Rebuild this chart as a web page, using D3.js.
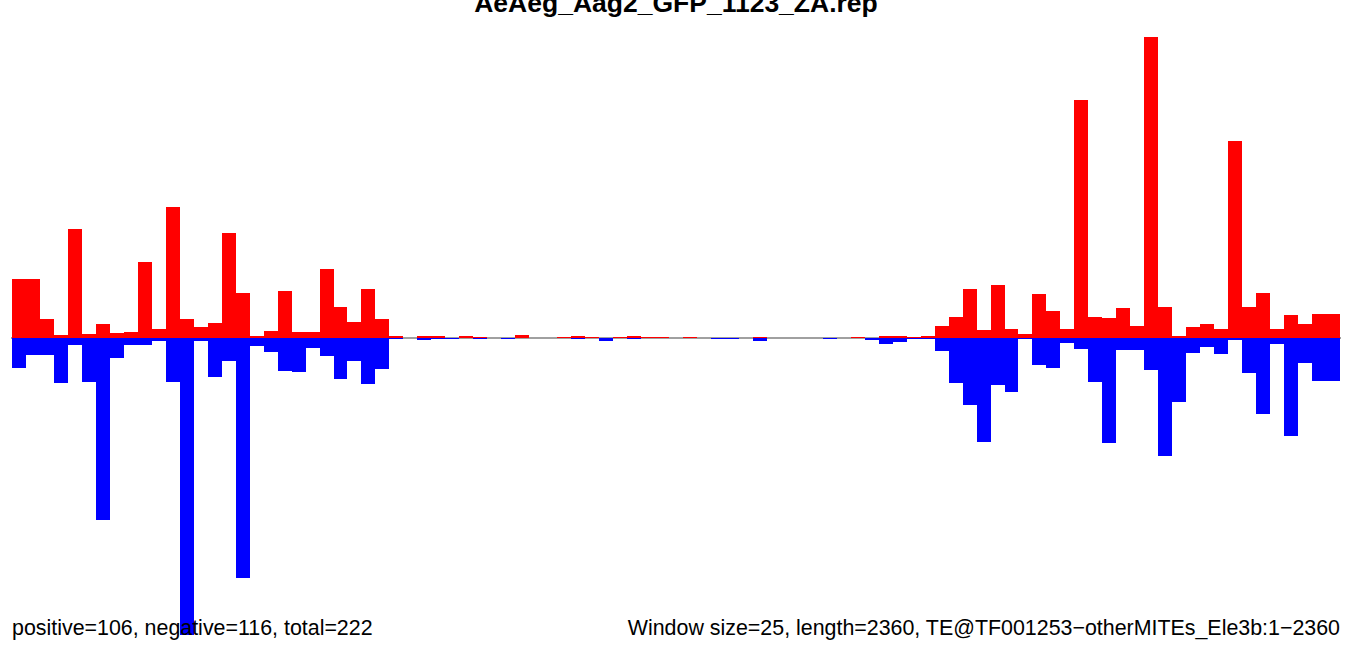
<!DOCTYPE html>
<html>
<head>
<meta charset="utf-8">
<script src="https://cdn.jsdelivr.net/npm/d3@7"></script>
<style>
  body { margin: 0; background: #fff; }
  svg { display: block; font-family: "Liberation Sans", Arial, Helvetica, sans-serif; }
</style>
</head>
<body>
<svg width="1357" height="646"></svg>
<script>
let width = 1357,
    height = 646,
    margin = ({ top: 37, right: 17, bottom: 8, left: 12 }); // plot box inside the page

// window starts along the TE (window size 25, length 2360)
const windowSize = 25, teLength = 2360;
const windows = d3.range(0, teLength, windowSize);

// read counts per window, sense strand (drawn up, red)
const positive = [
  59, 59, 19, 3, 109, 4, 14, 5, 6, 76,
  9, 131, 19, 11, 15, 105, 45, 2, 7, 47,
  6, 6, 69, 31, 16, 49, 19, 2, 0, 2,
  2, 0, 2, 1, 0, 0, 3, 0, 0, 1,
  2, 1, 0, 1, 2, 1, 1, 0, 1, 0,
  0, 0, 0, 1, 0, 0, 0, 0, 0, 0,
  1, 0, 2, 2, 1, 2.3, 12.3, 21, 49, 8,
  53, 9, 4, 44, 27, 9, 238, 21, 20, 30,
  12, 301, 31, 2.3, 11, 14, 9, 197, 31, 45,
  9, 23, 14, 24, 24
];

// read counts per window, antisense strand (drawn down, blue)
const negative = [
  29.7, 16.7, 16.7, 44.7, 6.7, 43.7, 181.7, 19.7, 7.3, 7.3,
  2.7, 43.7, 297, 2.7, 38.7, 22.7, 239.7, 7.7, 13.7, 32.7,
  33.7, 9.7, 17.7, 40.7, 22.7, 45.7, 30.7, 1, 0, 2,
  1, 1, 0, 1, 0, 1, 0, 0, 0, 0,
  1, 0, 3, 0, 1, 0, 0, 0, 0, 0,
  1, 1, 0, 3, 0, 0, 0, 0, 1, 0,
  0, 2, 6, 4, 1, 1, 12.7, 44.7, 66.7, 103.7,
  46.7, 53.7, 1, 26.7, 29.7, 4.7, 10.7, 43.7, 104.7, 11.7,
  11.7, 31.7, 117.7, 63.7, 14.7, 8.7, 15.7, 1.7, 34.7, 75.7,
  5.7, 97.7, 24.7, 42.7, 42.7
];

const title = "AeAeg_Aag2_GFP_1123_ZA.rep";
const summary = "positive=106, negative=116, total=222";
const info = "Window size=25, length=2360, TE@TF001253\u2212otherMITEs_Ele3b:1\u22122360";

const svg = d3.select("svg");

const xScale = d3.scaleBand()
  .domain(windows)
  .range([margin.left, width - margin.right])
  .paddingInner(0);

const maxAbs = d3.max([d3.max(positive), d3.max(negative)]);
const zeroY = 338;
const yScale = d3.scaleLinear()
  .domain([-maxAbs, maxAbs])
  .range([zeroY + (zeroY - margin.top), margin.top]);

// baseline
svg.append("line")
  .attr("x1", margin.left - 1)
  .attr("x2", width - margin.right + 1)
  .attr("y1", yScale(0))
  .attr("y2", yScale(0))
  .attr("stroke", "#a0a0a0")
  .attr("stroke-width", 2);

svg.append("g")
  .selectAll("rect")
  .data(windows)
  .join("rect")
  .attr("x", d => xScale(d))
  .attr("width", xScale.bandwidth())
  .attr("y", (d, i) => yScale(positive[i]))
  .attr("height", (d, i) => yScale(0) - yScale(positive[i]))
  .attr("fill", "#ff0000")
  .attr("shape-rendering", "crispEdges");

svg.append("g")
  .selectAll("rect")
  .data(windows)
  .join("rect")
  .attr("x", d => xScale(d))
  .attr("width", xScale.bandwidth())
  .attr("y", yScale(0))
  .attr("height", (d, i) => yScale(-negative[i]) - yScale(0))
  .attr("fill", "#0000ff")
  .attr("shape-rendering", "crispEdges");

svg.append("text")
  .attr("x", (margin.left + width - margin.right) / 2)
  .attr("y", 12)
  .attr("text-anchor", "middle")
  .attr("font-weight", "bold")
  .attr("font-size", 26.5)
  .text(title);

svg.append("text")
  .attr("x", margin.left)
  .attr("y", 635)
  .attr("text-anchor", "start")
  .attr("font-size", 21.4)
  .text(summary);

svg.append("text")
  .attr("x", width - margin.right)
  .attr("y", 635)
  .attr("text-anchor", "end")
  .attr("font-size", 21.4)
  .text(info);
</script>
</body>
</html>
